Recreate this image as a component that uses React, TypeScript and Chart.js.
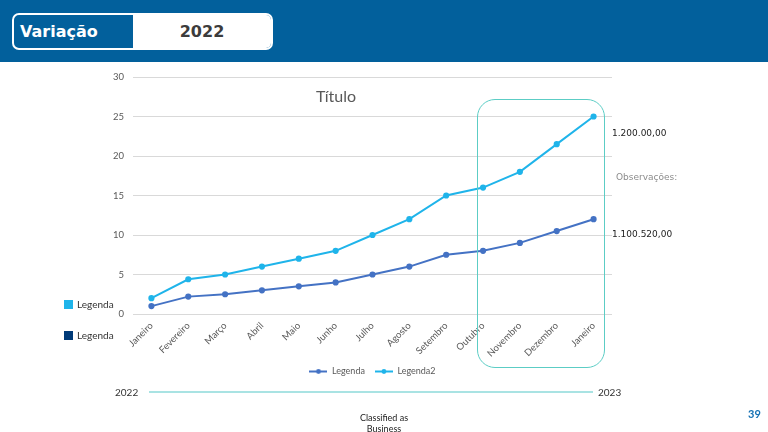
import React, { useEffect, useRef } from "react";
import { Chart, registerables } from "chart.js";

Chart.register(...registerables);

const months = [
  "Janeiro", "Fevereiro", "Março", "Abril", "Maio", "Junho", "Julho",
  "Agosto", "Setembro", "Outubro", "Novembro", "Dezembro", "Janeiro",
];
const legenda = [1, 2.2, 2.5, 3, 3.5, 4, 5, 6, 7.5, 8, 9, 10.5, 12];
const legenda2 = [2, 4.4, 5, 6, 7, 8, 10, 12, 15, 16, 18, 21.5, 25];
const seriesNames = ["Legenda", "Legenda2"];
const seriesColors = ["#4472C4", "#1FB4EA"];
const yMin = 0;
const yMax = 30;
const yStep = 5;

const CHART_FONT = "Lato, 'Liberation Sans', sans-serif";
const VERDANA = "'DejaVu Sans', Verdana, sans-serif";

function makeLegendMarker(color: string): HTMLCanvasElement {
  const c = document.createElement("canvas");
  c.width = 18;
  c.height = 7;
  const ctx = c.getContext("2d")!;
  ctx.strokeStyle = color;
  ctx.lineWidth = 2;
  ctx.beginPath();
  ctx.moveTo(0, 3.5);
  ctx.lineTo(18, 3.5);
  ctx.stroke();
  ctx.fillStyle = color;
  ctx.beginPath();
  ctx.arc(9, 3.5, 2.4, 0, Math.PI * 2);
  ctx.fill();
  return c;
}

export default function App() {
  const canvasRef = useRef<HTMLCanvasElement | null>(null);

  useEffect(() => {
    const canvas = canvasRef.current;
    if (!canvas) return;
    const markers = seriesColors.map((c) => makeLegendMarker(c));
    const chart = new Chart(canvas, {
      type: "line",
      data: {
        labels: months,
        datasets: [
          {
            label: seriesNames[0],
            data: legenda,
            borderColor: seriesColors[0],
            backgroundColor: seriesColors[0],
            pointBackgroundColor: seriesColors[0],
            pointBorderColor: seriesColors[0],
            borderWidth: 2,
            pointRadius: 2.1,
            tension: 0,
          },
          {
            label: seriesNames[1],
            data: legenda2,
            borderColor: seriesColors[1],
            backgroundColor: seriesColors[1],
            pointBackgroundColor: seriesColors[1],
            pointBorderColor: seriesColors[1],
            borderWidth: 2,
            pointRadius: 2.1,
            tension: 0,
          },
        ],
      },
      options: {
        responsive: false,
        animation: false,
        layout: { padding: { left: 93, right: 156, top: 77, bottom: 46 } },
        scales: {
          x: {
            offset: true,
            grid: { display: false, drawTicks: false },
            border: { display: false },
            ticks: {
              autoSkip: false,
              minRotation: 45,
              maxRotation: 45,
              padding: 6,
              color: "#595959",
              font: { family: CHART_FONT, size: 9.5 },
            },
            afterFit: (scale: any) => {
              scale.height = 43;
            },
          },
          y: {
            min: yMin,
            max: yMax,
            grid: { color: "#D9D9D9", lineWidth: 1, drawTicks: false },
            border: { display: false },
            ticks: {
              stepSize: yStep,
              padding: 9,
              color: "#595959",
              font: { family: CHART_FONT, size: 9.5 },
            },
            afterFit: (scale: any) => {
              scale.width = 40;
            },
          },
        },
        plugins: {
          title: { display: false },
          tooltip: { enabled: false },
          legend: {
            display: true,
            position: "bottom",
            fullSize: false,
            labels: {
              usePointStyle: true,
              pointStyleWidth: 18,
              padding: 10,
              color: "#595959",
              font: { family: CHART_FONT, size: 9 },
              generateLabels: (ch: any) => {
                const items = Chart.defaults.plugins.legend.labels.generateLabels(ch);
                return items.map((it: any, i: number) => ({ ...it, pointStyle: markers[i] }));
              },
            },
          },
        },
      },
    });
    return () => chart.destroy();
  }, []);

  const abs = (s: React.CSSProperties): React.CSSProperties => ({ position: "absolute", ...s });

  return (
    <div style={{ position: "absolute", left: 0, top: 0, width: 768, height: 432, background: "#ffffff", overflow: "hidden" }}>
      {/* header band */}
      <div style={abs({ left: 0, top: 0, width: 768, height: 62, background: "#02609C" })} />
      <div
        style={abs({
          left: 12,
          top: 13,
          width: 261,
          height: 37,
          boxSizing: "border-box",
          border: "2px solid #ffffff",
          borderRadius: 7,
          overflow: "hidden",
        })}
      >
        <div style={abs({ left: 119, top: 0, right: 0, bottom: 0, background: "#ffffff" })} />
        <div
          style={abs({
            left: 6,
            top: 0,
            height: 33,
            lineHeight: "33px",
            color: "#ffffff",
            fontFamily: VERDANA,
            fontWeight: "bold",
            fontSize: 16,
          })}
        >
          Variação
        </div>
        <div
          style={abs({
            left: 119,
            right: 0,
            top: 0,
            height: 33,
            lineHeight: "33px",
            textAlign: "center",
            color: "#3C3C3C",
            fontFamily: VERDANA,
            fontWeight: "bold",
            fontSize: 16,
          })}
        >
          2022
        </div>
      </div>

      {/* chart */}
      <canvas ref={canvasRef} width={768} height={432} style={abs({ left: 0, top: 0, width: 768, height: 432 })} />

      {/* chart title */}
      <div
        style={abs({
          left: 286,
          width: 100,
          top: 85,
          height: 22,
          lineHeight: "22px",
          textAlign: "center",
          color: "#595959",
          fontFamily: CHART_FONT,
          fontSize: 16,
        })}
      >
        Título
      </div>

      {/* highlight box */}
      <div
        style={abs({
          left: 477,
          top: 99,
          width: 128,
          height: 269,
          boxSizing: "border-box",
          border: "1.5px solid #5CCDC5",
          borderRadius: 18,
        })}
      />

      {/* right notes */}
      <div style={abs({ left: 612, top: 126, lineHeight: "14px", fontFamily: VERDANA, fontSize: 9, color: "#222222" })}>
        1.200.00,00
      </div>
      <div style={abs({ left: 616, top: 170, lineHeight: "14px", fontFamily: VERDANA, fontSize: 9, color: "#8C8C8C" })}>
        Observações:
      </div>
      <div style={abs({ left: 612, top: 227, lineHeight: "14px", fontFamily: VERDANA, fontSize: 9, color: "#222222" })}>
        1.100.520,00
      </div>

      {/* left legend */}
      <div style={abs({ left: 64, top: 300, width: 9, height: 9, background: "#1FB4EA" })} />
      <div style={abs({ left: 77, top: 297, lineHeight: "15px", fontFamily: CHART_FONT, fontSize: 10, color: "#333333" })}>
        Legenda
      </div>
      <div style={abs({ left: 64, top: 331, width: 9, height: 9, background: "#003A78" })} />
      <div style={abs({ left: 77, top: 328, lineHeight: "15px", fontFamily: CHART_FONT, fontSize: 10, color: "#333333" })}>
        Legenda
      </div>

      {/* timeline */}
      <div style={abs({ left: 115, top: 385, lineHeight: "14px", fontFamily: CHART_FONT, fontSize: 10, color: "#333333" })}>
        2022
      </div>
      <div style={abs({ left: 149, top: 391, width: 444, height: 2, background: "#A9E3E3" })} />
      <div style={abs({ left: 598, top: 385, lineHeight: "14px", fontFamily: CHART_FONT, fontSize: 10, color: "#333333" })}>
        2023
      </div>

      {/* footer */}
      <div
        style={abs({
          left: 334,
          width: 100,
          top: 412,
          lineHeight: "11px",
          textAlign: "center",
          fontFamily: CHART_FONT,
          fontSize: 9,
          color: "#222222",
        })}
      >
        Classified as
        <br />
        Business
      </div>
      <div style={abs({ left: 748, top: 407, lineHeight: "14px", fontFamily: CHART_FONT, fontSize: 11, fontWeight: "bold", color: "#1672B4" })}>
        39
      </div>
    </div>
  );
}
